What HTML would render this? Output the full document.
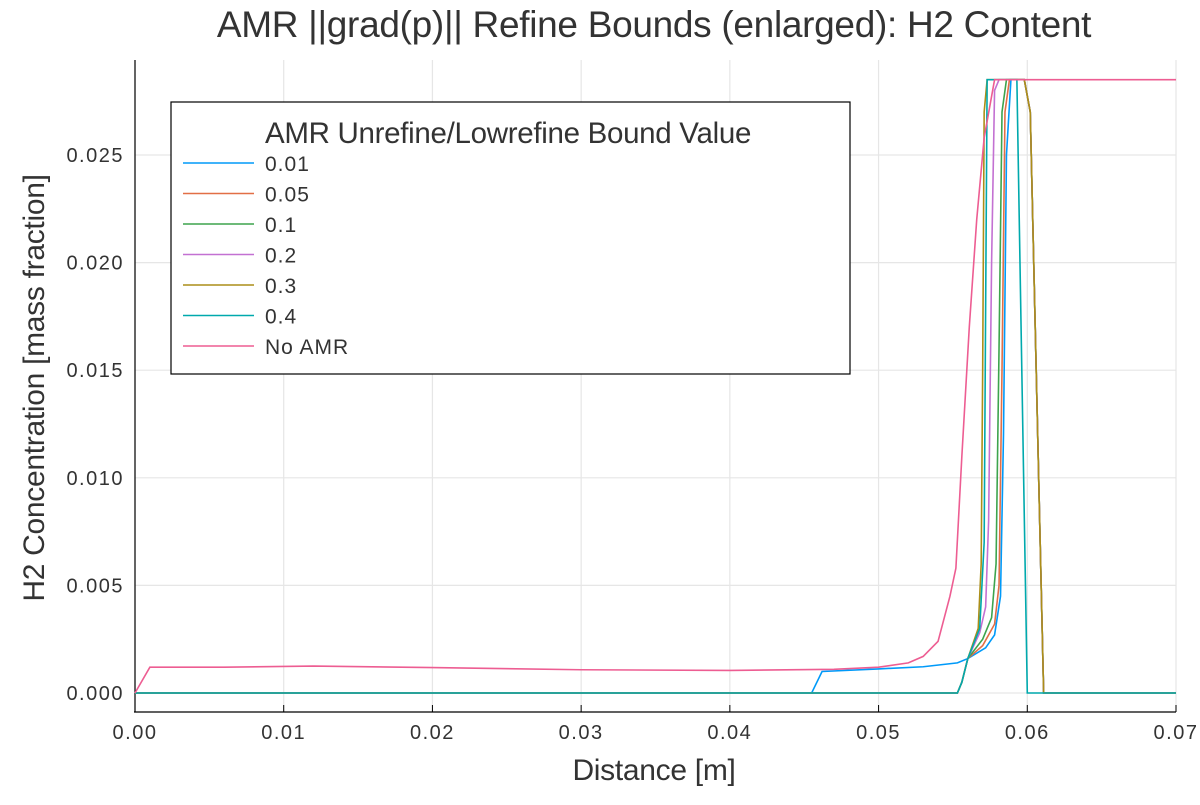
<!DOCTYPE html>
<html><head><meta charset="utf-8"><style>
body{margin:0;background:#fff;font-family:"Liberation Sans",sans-serif}
</style></head><body>
<svg id="chart" width="1200" height="800" xmlns="http://www.w3.org/2000/svg" font-family="Liberation Sans, sans-serif">
<rect width="1200" height="800" fill="#fff"/>
<text x="654" y="37" font-size="37" text-anchor="middle" fill="#333" letter-spacing="-0.3">AMR ||grad(p)|| Refine Bounds (enlarged): H2 Content</text>
<g id="grid"></g><g id="axes"></g><g id="series"></g>
<text x="654" y="780" font-size="30" text-anchor="middle" fill="#333" letter-spacing="-0.3">Distance [m]</text>
<text transform="translate(44,388) rotate(-90)" font-size="30" text-anchor="middle" fill="#333" letter-spacing="-0.3">H2 Concentration [mass fraction]</text>
<g id="legend"></g>
</svg>
<script>
const xTicks=[0,0.01,0.02,0.03,0.04,0.05,0.06,0.07];
const xTickLabels=["0.00","0.01","0.02","0.03","0.04","0.05","0.06","0.07"];
const yTicks=[0,0.005,0.010,0.015,0.020,0.025];
const yTickLabels=["0.000","0.005","0.010","0.015","0.020","0.025"];
const seriesNames=["0.01","0.05","0.1","0.2","0.3","0.4","No AMR"];
const seriesColors=["#009af9","#e26f46","#3da44d","#c371d2","#ac8e18","#00a9ad","#ed5d92"];
const s001=[[0,0],[0.0455,0],[0.0462,0.001],[0.05,0.00112],[0.053,0.00122],[0.0553,0.0014],[0.056,0.0016],[0.0572,0.0021],[0.0578,0.0027],[0.0582,0.0045],[0.0584,0.012],[0.0586,0.025],[0.0589,0.0285],[0.0598,0.0285],[0.0602,0.027],[0.0611,0],[0.07,0]];
const s005=[[0,0],[0.0553,0],[0.0556,0.0005],[0.056,0.0016],[0.057,0.0022],[0.0578,0.0032],[0.0581,0.005],[0.0583,0.015],[0.0585,0.027],[0.0588,0.0285],[0.0598,0.0285],[0.0602,0.027],[0.0611,0],[0.07,0]];
const s01=[[0,0],[0.0553,0],[0.0556,0.0005],[0.056,0.0016],[0.057,0.0025],[0.0576,0.0035],[0.0579,0.006],[0.0581,0.016],[0.0583,0.027],[0.0586,0.0285],[0.0598,0.0285],[0.0602,0.027],[0.0611,0],[0.07,0]];
const s02=[[0,0],[0.0553,0],[0.0556,0.0005],[0.056,0.0016],[0.0568,0.0028],[0.0572,0.004],[0.0574,0.008],[0.0576,0.02],[0.0578,0.028],[0.0581,0.0285],[0.0598,0.0285],[0.0602,0.027],[0.0611,0],[0.07,0]];
const s03=[[0,0],[0.0553,0],[0.0556,0.0005],[0.056,0.0016],[0.0567,0.003],[0.0569,0.006],[0.057,0.015],[0.0571,0.027],[0.0573,0.0285],[0.0598,0.0285],[0.0602,0.027],[0.0611,0],[0.07,0]];
const s04=[[0,0],[0.0553,0],[0.0556,0.0005],[0.056,0.0016],[0.0568,0.003],[0.0571,0.007],[0.0572,0.018],[0.0573,0.0285],[0.0593,0.0285],[0.06,0],[0.07,0]];
const sNo=[[0,0],[0.001,0.0012],[0.006,0.0012],[0.012,0.00125],[0.02,0.00118],[0.03,0.00108],[0.04,0.00105],[0.047,0.0011],[0.05,0.0012],[0.052,0.0014],[0.053,0.0017],[0.054,0.0024],[0.0548,0.0045],[0.0552,0.0058],[0.0556,0.011],[0.0561,0.017],[0.0566,0.022],[0.0571,0.0258],[0.0578,0.0285],[0.07,0.0285]];
const seriesData=[s001,s005,s01,s02,s03,s04,sNo];
const X0=135,X1=1176,Y0=693,Y1=155;
const xs=v=>X0+(v-0)/(0.07)*(X1-X0);
const ys=v=>Y0-(v/0.025)*(Y0-Y1);
const NS="http://www.w3.org/2000/svg";
function mk(t,a,p){const e=document.createElementNS(NS,t);for(const k in a)e.setAttribute(k,a[k]);p.appendChild(e);return e;}
const grid=document.getElementById('grid'),axes=document.getElementById('axes'),ser=document.getElementById('series'),leg=document.getElementById('legend');
xTicks.forEach((t,i)=>{
 const g=mk('line',{x1:xs(t),x2:xs(t),y1:60,y2:712,stroke:'#e6e6e6','stroke-width':1.2},grid);
 
 
 const tk=mk('line',{x1:xs(t),x2:xs(t),y1:712,y2:705,stroke:'#000'},axes);
 
 
 const tx=mk('text',{x:xs(t),y:739,'font-size':20,'text-anchor':'middle',fill:'#333','letter-spacing':1.5},axes);
 tx.textContent=xTickLabels[i];
 
 
});
yTicks.forEach((t,i)=>{
 const g=mk('line',{x1:135,x2:1176,y1:ys(t),y2:ys(t),stroke:'#e6e6e6','stroke-width':1.2},grid);
 
 
 const tx=mk('text',{x:124,y:ys(t)+7,'font-size':20,'text-anchor':'end',fill:'#333','letter-spacing':1.5},axes);
 tx.textContent=yTickLabels[i];
 
 
});
const xa=mk('line',{x1:134,x2:1176,y1:712,y2:712,stroke:'#000','stroke-width':1.2},axes);


const ya=mk('line',{x1:135,x2:135,y1:60,y2:712,stroke:'#000','stroke-width':1.2},axes);


seriesData.forEach((d,i)=>{
 const p=mk('polyline',{points:d.map(q=>xs(q[0])+','+ys(q[1])).join(' '),fill:'none',stroke:seriesColors[i],'stroke-width':1.6},ser);
 
 
});
const box=mk('rect',{x:171,y:102,width:679,height:272,fill:'#fff',stroke:'#000','stroke-width':1.2},leg);


const lt=mk('text',{x:508,y:143,'font-size':29.5,'text-anchor':'middle',fill:'#333','letter-spacing':'-0.3'},leg);
lt.textContent='AMR Unrefine/Lowrefine Bound Value';


seriesNames.forEach((n,i)=>{
 const y=163+i*30.5;
 const l=mk('line',{x1:183,x2:254,y1:y,y2:y,stroke:seriesColors[i],'stroke-width':1.6},leg);
 
 
 const t=mk('text',{x:265,y:y+8,'font-size':21,fill:'#333','letter-spacing':1},leg);
 t.textContent=n;
 
 
});
</script>
</body></html>
